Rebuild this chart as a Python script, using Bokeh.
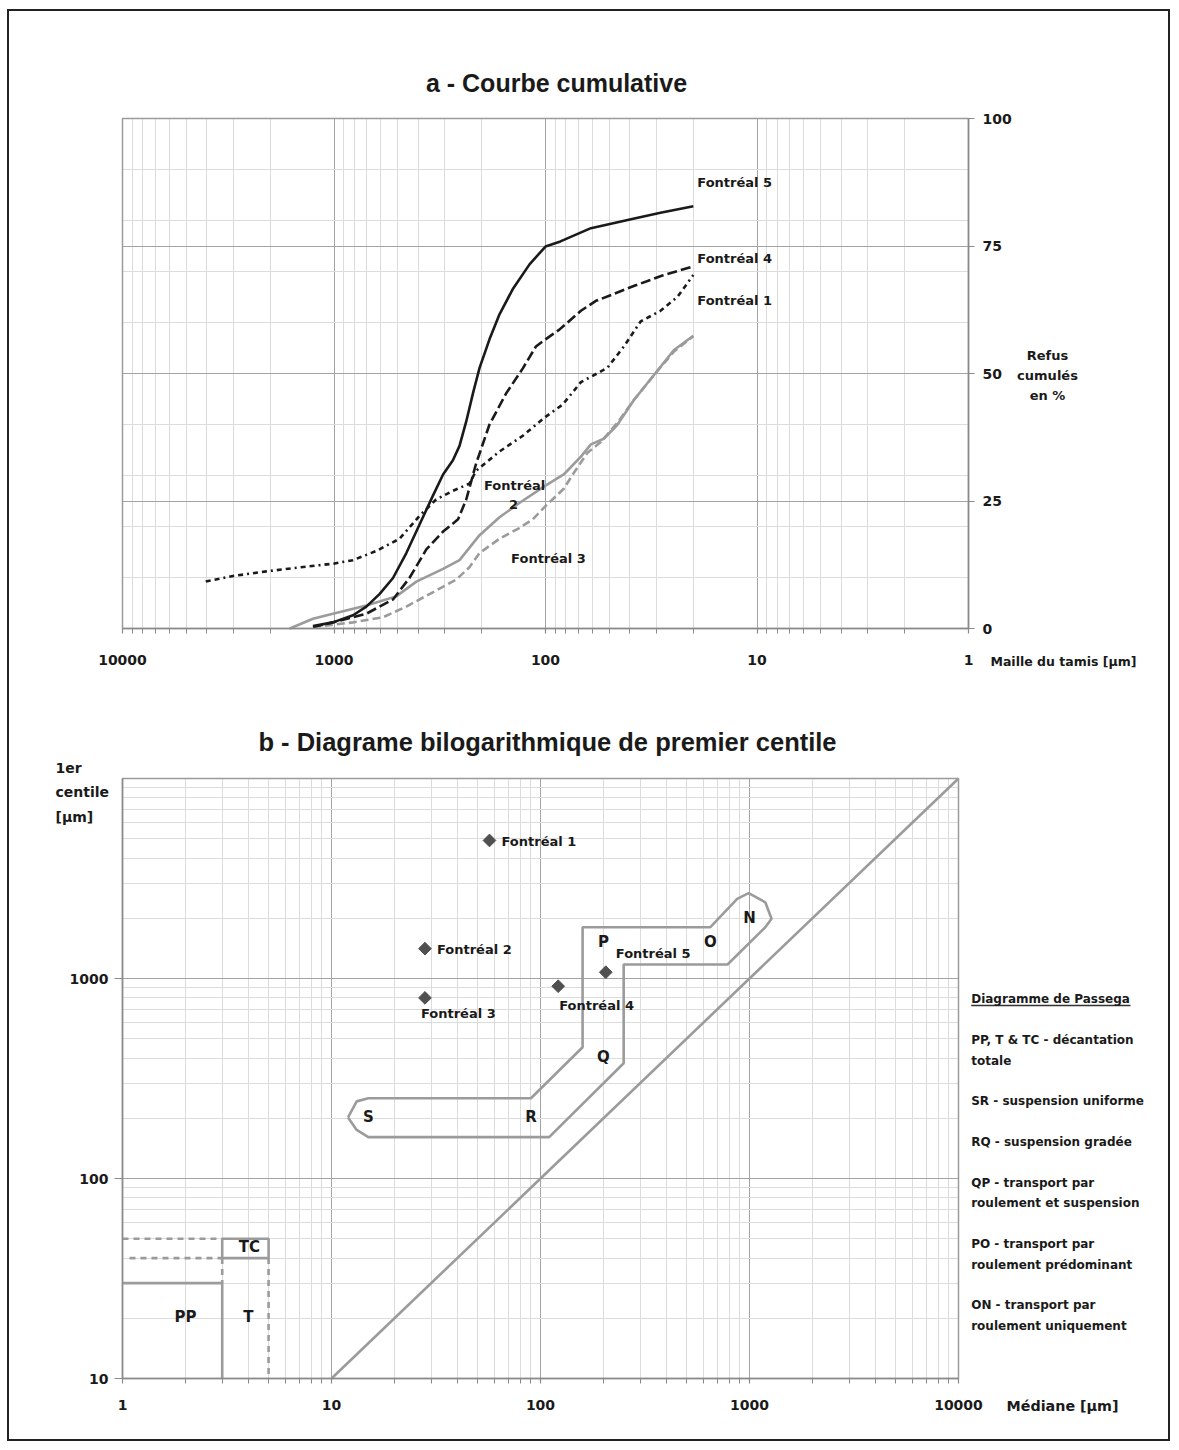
import math
from bokeh.plotting import figure
from bokeh.models import (Range1d, FixedTicker, BasicTickFormatter, Label, Grid,
                          LogAxis, LinearAxis)
from bokeh.layouts import column
from bokeh.embed import file_html
from bokeh.resources import INLINE
from bokeh.core.properties import value

# ---------------- a - Courbe cumulative (data) ----------------
a_ticks_x = [10000, 1000, 100, 10, 1]
a_ticks_y = [0, 25, 50, 75, 100]
a_grid_y = [25, 50, 75]
a_minor_y = [10, 20, 30, 40, 60, 70, 80, 90]
a_lim_x = (10000, 1)
a_lim_y = (0, 100)

f1_x = [4040, 3000, 2090, 1450, 1010, 813, 631, 490, 394, 329, 274, 229, 213, 165, 128, 100, 83, 68, 51, 42.6, 35.5, 28.6, 23.8, 20]
f1_y = [9.2, 10.3, 11.2, 12.0, 12.7, 13.4, 15.2, 17.6, 22.1, 25.3, 27.0, 28.4, 30.9, 34.7, 37.8, 41.5, 43.9, 48.3, 51.1, 55.3, 60.2, 62.3, 65.0, 69.3]

f2_x = [1618, 1257, 1012, 703, 508, 408, 305, 255, 205, 165, 133, 100, 82, 68, 61, 53, 45.8, 38.2, 30.7, 24.7, 20]
f2_y = [0.0, 1.9, 2.9, 4.5, 6.3, 9.2, 11.7, 13.4, 18.3, 21.8, 24.6, 28.0, 30.2, 33.7, 36.1, 37.2, 39.9, 44.8, 49.7, 54.6, 57.4]

f3_x = [1257, 813, 586, 455, 341, 264, 229, 205, 165, 133, 115, 100, 82, 73.5, 63.5, 55, 45.8, 38.2, 30.7, 24.7, 20]
f3_y = [0.3, 1.2, 2.2, 4.3, 7.1, 9.6, 12.0, 14.8, 17.6, 19.7, 21.4, 24.0, 27.4, 30.5, 34.4, 36.5, 40.3, 44.8, 49.7, 54.3, 57.3]

f4_x = [1257, 1012, 703, 526, 440, 366, 305, 259, 237, 213, 184, 153, 128, 111, 100, 86, 68, 58, 38, 28, 20]
f4_y = [0.3, 1.2, 2.9, 5.7, 9.9, 15.5, 19.0, 21.4, 25.3, 32.3, 40.0, 46.2, 51.0, 55.3, 56.7, 58.6, 62.3, 64.2, 67.2, 69.2, 71.0]

f5_x = [1257, 1012, 813, 703, 608, 526, 455, 394, 341, 305, 274, 255, 237, 220, 205, 184, 165, 143, 119, 100, 85, 61, 38, 28.6, 20]
f5_y = [0.5, 1.2, 2.6, 4.3, 6.8, 9.9, 14.8, 20.4, 26.0, 30.2, 33.0, 35.8, 40.6, 46.2, 51.1, 56.7, 61.6, 66.5, 71.4, 74.9, 75.9, 78.5, 80.4, 81.5, 82.8]

# ---------------- b - Diagramme de Passega (data) ----------------
b_ticks_x = [1, 10, 100, 1000, 10000]
b_ticks_y = [10, 100, 1000]
b_grid_y = [10, 100, 1000, 10000]
b_lim_x = (1, 10000)
b_lim_y = (10, 10000)

sample_names = ["Fontréal 1", "Fontréal 2", "Fontréal 3", "Fontréal 4", "Fontréal 5"]
sample_median = [57.0, 28.0, 28.0, 121.5, 205.3]
sample_c1 = [4900, 1410, 800, 915, 1075]

passega_x = [12, 13.2, 15, 90, 159, 159, 650, 873, 990, 1190, 1275, 1190, 785, 250, 250, 110, 15, 13.2, 12]
passega_y = [202, 243, 252, 252, 453, 1805, 1805, 2500, 2670, 2405, 1990, 1805, 1175, 1175, 377, 161, 161, 175, 202]

pp_x = [1, 3, 3]
pp_y = [30, 30, 10]
tc_x = [3, 5, 5, 3, 3]
tc_y = [40, 40, 50, 50, 40]
dash_x0 = [1, 1.08, 3, 5]
dash_y0 = [50, 40, 40, 40]
dash_x1 = [3, 3, 3, 5]
dash_y1 = [50, 40, 30, 10]
diag_x = [10, 10000]
diag_y = [10, 10000]

zone_labels = ["S", "R", "Q", "P", "O", "N", "PP", "T", "TC"]
zone_x = [15, 90, 200, 200, 650, 1000, 2.0, 4.0, 4.05]
zone_y = [202, 202, 404, 1520, 1520, 2000, 20.2, 20.2, 45.4]

legend_lines = ["Diagramme de Passega",
                "PP, T & TC - décantation", "totale",
                "SR - suspension uniforme",
                "RQ - suspension gradée",
                "QP - transport par", "roulement et suspension",
                "PO - transport par", "roulement prédominant",
                "ON - transport par", "roulement uniquement"]

# ---------------- styling / layout ----------------
W = 1159
H1 = 690
H2 = 738
INK = "#1a1a1a"
GRAY = "#9b9b9b"
AXIS = "#8a8a8a"
MAJ_GRID = "#a3a3a3"
MIN_GRID = "#dcdcdc"
SANS = "DejaVu Sans"
TITLE_FONT = "Liberation Sans"


def minor(e0, e1):
    return [m * 10.0 ** e for e in range(e0, e1) for m in range(2, 10)]


def log_map(v0, v1, p0, p1):
    a0, a1 = math.log10(v0), math.log10(v1)
    k = (a1 - a0) / (p1 - p0)
    return lambda p: 10 ** (a0 + k * (p - p0))


def lin_map(v0, v1, p0, p1):
    k = (v1 - v0) / (p1 - p0)
    return lambda p: v0 + k * (p - p0)


def style_axis(ax, size, tick_out, minor_out, standoff):
    ax.axis_line_color = AXIS
    ax.axis_line_width = 1.5
    ax.major_tick_line_color = AXIS
    ax.major_tick_line_width = 1.2
    ax.major_tick_out = tick_out
    ax.major_tick_in = 0
    ax.minor_tick_line_color = AXIS if minor_out else None
    ax.minor_tick_out = minor_out
    ax.minor_tick_in = 0
    ax.major_label_text_font = SANS
    ax.major_label_text_font_style = "bold"
    ax.major_label_text_font_size = size
    ax.major_label_text_color = INK
    ax.major_label_standoff = standoff


def add_grid(p, dim, ticks, minors, bounds, cross):
    try:
        g = Grid(dimension=dim, ticker=FixedTicker(ticks=ticks, minor_ticks=minors),
                 bounds=bounds, grid_line_color=MAJ_GRID, minor_grid_line_color=MIN_GRID)
        g.cross_bounds = cross
        p.add_layout(g)
    except Exception:
        for tk, col in ((minors, MIN_GRID), (ticks, MAJ_GRID)):
            n = len(tk)
            if dim == 0:
                p.segment(tk, [cross[0]] * n, tk, [cross[1]] * n, line_color=col, line_width=1, level="underlay")
            else:
                p.segment([cross[0]] * n, tk, [cross[1]] * n, tk, line_color=col, line_width=1, level="underlay")


def label(p, x, y, text, size="13px", font=SANS, align="left", xo=0, yo=0, color=INK):
    p.add_layout(Label(x=x, y=y, text=text, x_offset=xo, y_offset=yo,
                       text_font=font, text_font_style="bold", text_font_size=size,
                       text_color=color, text_align=align, text_baseline="middle"))


def base_figure(h, xr, yr, ytype):
    p = figure(width=W, height=h, x_axis_type="log", y_axis_type=ytype,
               x_axis_location=None, y_axis_location=None, x_range=xr, y_range=yr,
               output_backend="svg", toolbar_location=None, min_border=0)
    p.center = [r for r in p.center if not isinstance(r, Grid)]
    p.outline_line_color = None
    p.background_fill_color = "white"
    p.border_fill_color = "white"
    return p


# ================= figure a =================
# plot area of chart a inside its canvas: x 113..959, y 107..617
ax_px = log_map(a_lim_x[0], a_lim_x[1], 113, 959)
ay_px = lin_map(a_lim_y[1], a_lim_y[0], 107, 617)
pa = base_figure(H1, Range1d(ax_px(0), ax_px(W)), Range1d(ay_px(H1), ay_px(0)), "linear")

add_grid(pa, 0, a_ticks_x, minor(0, 4), (1, 10000), a_lim_y)
add_grid(pa, 1, a_grid_y, a_minor_y, (0, 100), (1, 10000))
pa.quad(left=[a_lim_x[0]], right=[a_lim_x[1]], bottom=[a_lim_y[0]], top=[a_lim_y[1]],
        fill_color=None, line_color=GRAY, line_width=1.5)

xa = LogAxis(fixed_location=a_lim_y[0], bounds=(1, 10000),
             ticker=FixedTicker(ticks=a_ticks_x, minor_ticks=minor(0, 4)),
             formatter=BasicTickFormatter(use_scientific=False))
style_axis(xa, "14px", 5, 5, 21)
pa.add_layout(xa, "below")
ya = LinearAxis(fixed_location=a_lim_x[1], bounds=(0, 100), ticker=FixedTicker(ticks=a_ticks_y))
style_axis(ya, "14px", 6, 0, 8)
pa.add_layout(ya, "right")

pa.line(f3_x, f3_y, line_color=GRAY, line_width=2.6, line_dash="8 4")
pa.line(f2_x, f2_y, line_color=GRAY, line_width=2.6)
pa.line(f1_x, f1_y, line_color=INK, line_width=2.6, line_dash="5 4 5 4 2 4")
pa.line(f4_x, f4_y, line_color=INK, line_width=2.6, line_dash="10 4")
pa.line(f5_x, f5_y, line_color=INK, line_width=2.6)

label(pa, 88.7, 100, "a - Courbe cumulative", size="25px", font=TITLE_FONT, align="center", yo=36)
label(pa, 20, 87.5, "Fontréal 5", xo=4)
label(pa, 20, 72.5, "Fontréal 4", xo=4)
label(pa, 20, 64.3, "Fontréal 1", xo=4)
label(pa, 140, 28.0, "Fontréal", align="center")
label(pa, 141.7, 24.3, "2", align="center")
label(pa, 96.8, 13.7, "Fontréal 3", align="center")
label(pa, 1, 50, "Refus", align="center", xo=79, yo=18.5)
label(pa, 1, 50, "cumulés", align="center", xo=79, yo=-1.5)
label(pa, 1, 50, "en %", align="center", xo=79, yo=-22)
label(pa, 1, 0, "Maille du tamis [µm]", size="12.5px", xo=22, yo=-33)

# ================= figure b =================
# plot area of chart b inside its canvas: x 113..949, y 77..677
bx_px = log_map(b_lim_x[0], b_lim_x[1], 113, 949)
by_px = log_map(b_lim_y[1], b_lim_y[0], 77, 677)
pb = base_figure(H2, Range1d(bx_px(0), bx_px(W)), Range1d(by_px(H2), by_px(0)), "log")

add_grid(pb, 0, b_ticks_x, minor(0, 4), b_lim_x, b_lim_y)
add_grid(pb, 1, b_grid_y, minor(1, 4), b_lim_y, b_lim_x)
pb.quad(left=[b_lim_x[0]], right=[b_lim_x[1]], bottom=[b_lim_y[0]], top=[b_lim_y[1]],
        fill_color=None, line_color=GRAY, line_width=1.5)

xb = LogAxis(fixed_location=b_lim_y[0], bounds=b_lim_x,
             ticker=FixedTicker(ticks=b_ticks_x, minor_ticks=minor(0, 4)),
             formatter=BasicTickFormatter(use_scientific=False))
style_axis(xb, "14px", 5, 5, 16)
pb.add_layout(xb, "below")
yb = LogAxis(fixed_location=b_lim_x[0], bounds=b_lim_y, ticker=FixedTicker(ticks=b_ticks_y),
             formatter=BasicTickFormatter(use_scientific=False))
style_axis(yb, "14px", 8, 0, 6)
pb.add_layout(yb, "left")

pb.line(diag_x, diag_y, line_color=GRAY, line_width=2.6)
pb.line(passega_x, passega_y, line_color=GRAY, line_width=2.6)
pb.line(pp_x, pp_y, line_color=GRAY, line_width=2.6)
pb.line(tc_x, tc_y, line_color=GRAY, line_width=2.6)
pb.segment(dash_x0, dash_y0, dash_x1, dash_y1, line_color=GRAY, line_width=2.6, line_dash="6 5")

pb.scatter(sample_median, sample_c1, marker="square", angle=math.pi / 4, size=9,
           fill_color="#505050", line_color="#505050")

pb.text(zone_x, zone_y, text=zone_labels, text_font=value(SANS), text_font_style="bold",
        text_font_size="15px", text_color=INK, text_align="center", text_baseline="middle")

sample_offsets = [(12, -1), (12, -1), (-4, -15.5), (1, -19.5), (10, 18.5)]
for name, mx, cy, (xo, yo) in zip(sample_names, sample_median, sample_c1, sample_offsets):
    label(pb, mx, cy, name, xo=xo, yo=yo)

label(pb, 108, 10000, "b - Diagrame bilogarithmique de premier centile", size="25.5px",
      font=TITLE_FONT, align="center", yo=37)
label(pb, 1, 10000, "1er", size="14px", xo=-67, yo=11)
label(pb, 1, 10000, "centile", size="14px", xo=-67, yo=-13)
label(pb, 1, 10000, "[µm]", size="14px", xo=-67, yo=-38)
label(pb, 10000, 10, "Médiane [µm]", size="14.3px", xo=48, yo=-27.7)

legend_py = [998.3, 1039.3, 1060, 1100.7, 1141.7, 1182.3, 1202.7, 1243.3, 1264, 1304.3, 1325]
for txt, py in zip(legend_lines, legend_py):
    label(pb, 10000, 10, txt, size="12px", xo=12.7, yo=1378 - py)

# underline of the legend heading (page pixels -> chart b canvas pixels)
u_y = by_px(1005 - 701)
pb.segment([bx_px(970.7 - 9)], [u_y], [bx_px(1130 - 9)], [u_y], line_color="#333333", line_width=1.3)

layout = column(pa, pb, spacing=0,
                styles={"border": "2px solid #222222", "margin-left": "7px", "margin-top": "9px"})

open("out.html", "w").write(file_html(layout, INLINE))
